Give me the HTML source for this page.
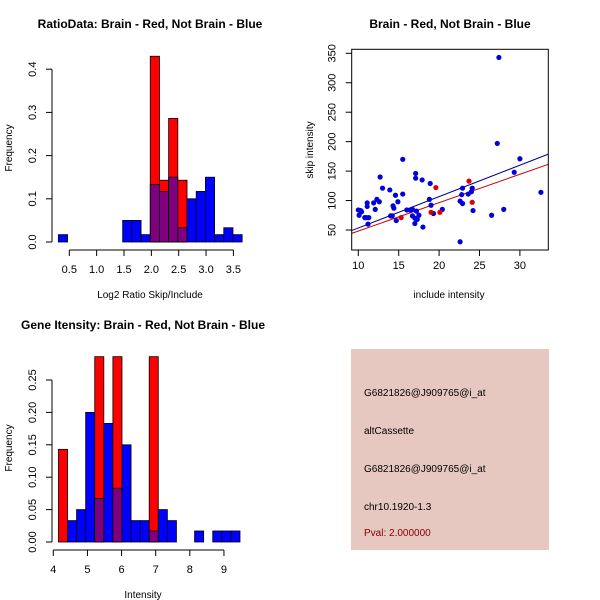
<!DOCTYPE html>
<html><head><meta charset="utf-8">
<style>
body{margin:0;background:#fff;}
svg{display:block;font-family:"Liberation Sans",sans-serif;}
</style></head>
<body>
<svg id="c" width="600" height="600">
<rect x="0" y="0" width="600" height="600" fill="#fff"/>
<text x="150" y="28" text-anchor="middle" font-size="12" font-weight="bold">RatioData: Brain - Red, Not Brain - Blue</text>
<text x="450" y="28" text-anchor="middle" font-size="12" font-weight="bold">Brain - Red, Not Brain - Blue</text>
<text x="143" y="329" text-anchor="middle" font-size="12" font-weight="bold">Gene Itensity: Brain - Red, Not Brain - Blue</text>
<g>
<rect x="351" y="349" width="198" height="201" fill="#E6C8C0"/>
<text x="364" y="396" font-size="10" fill="#000">G6821826@J909765@i_at</text>
<text x="364" y="434" font-size="10" fill="#000">altCassette</text>
<text x="364" y="472" font-size="10" fill="#000">G6821826@J909765@i_at</text>
<text x="364" y="510" font-size="10" fill="#000">chr10.1920-1.3</text>
<text x="364" y="536" font-size="10" fill="#8B0000">Pval: 2.000000</text>
</g>
</svg>
<script>
// Ratio histogram data
const ratioBlue=[0.017,0,0,0,0,0,0,0.05,0.05,0.017,0.133,0.117,0.15,0.033,0.1,0.117,0.15,0.017,0.033,0.017];
const ratioRed=[0,0,0,0,0,0,0,0,0,0,0.43,0.143,0.286,0.143,0,0,0,0,0,0];
const ratioBinStart=0.30, ratioBinWidth=0.168;
const ratioXTicks=[0.5,1.0,1.5,2.0,2.5,3.0,3.5];
const ratioYTicks=[0.0,0.1,0.2,0.3,0.4];
// Intensity histogram data
const intBlue=[0,0.033,0.05,0.2,0.067,0.183,0.083,0.15,0.033,0.033,0.017,0.05,0.033,0,0,0.017,0,0.017,0.017,0.017];
const intRed=[0.143,0,0,0,0.286,0,0.286,0,0,0,0.286,0,0,0,0,0,0,0,0,0];
const intBinStart=4.15, intBinWidth=0.266;
const intXTicks=[4,5,6,7,8,9];
const intYTicks=[0.00,0.05,0.10,0.15,0.20,0.25];
// Scatter data
const blueX=[10,10.1,10.3,10.4,10.8,11,11.3,11.1,11.1,11.2,11.9,12.1,12.3,12.6,12.7,13,13.9,14,14.3,14.4,14.2,14.6,14.7,14.9,15.5,15.5,16,16.4,16.7,16.7,17,17,17.1,17.1,17.2,17.3,17.5,17.9,18,18.9,18.8,19,19.3,20.4,22.6,22.6,22.9,22.8,22.9,23.6,24,24.1,24.2,26.5,27.2,27.4,28,29.3,30,32.6];
const blueY=[84,75,83,81,71,71,71,96,90,60,96,85,102,98,140,121,118,74,91,87,74,109,66,98,170,111,84,84,85,74,70,61,146,138,82,68,75,135,55,129,102,92,78,85,30,99,121,110,95,111,115,121,83,75,197,343,85,148,171,114];
const redX=[15.3,19,19.6,20.1,23.7,24.1];
const redY=[71,80,122,80,133,97];
const lineBlue=[0.1,5.33]; // intercept, slope
const lineRed=[0.0,4.82];
const scXTicks=[10,15,20,25,30];
const scYTicks=[50,100,150,200,250,300,350];

const svg=document.getElementById('c');
const NS='http://www.w3.org/2000/svg';
function el(tag,attrs,parent){const e=document.createElementNS(NS,tag);for(const k in attrs)e.setAttribute(k,attrs[k]);(parent||svg).appendChild(e);return e;}
function txt(x,y,s,size,rot,anchor,parent){const t=el('text',{x:x,y:y,'font-size':size,'text-anchor':anchor||'middle'},parent);if(rot)t.setAttribute('transform','rotate(-90 '+x+' '+y+')');t.textContent=s;return t;}

function hist(cfg){
  const g=el('g',{});
  
  
  const X=v=>cfg.x0+(v-cfg.xv0)*cfg.xs;
  const Y=v=>cfg.y0-v*cfg.ys;
  for(let i=0;i<cfg.blue.length;i++){
    const a=X(cfg.start+i*cfg.w), b=X(cfg.start+(i+1)*cfg.w);
    const bv=cfg.blue[i], rv=cfg.red[i], m=Math.min(bv,rv), M=Math.max(bv,rv);
    if(M<=0)continue;
    const col=rv>bv?'#FF0000':'#0000FF';
    const r=el('rect',{x:a,y:Y(M),width:b-a,height:Y(0)-Y(M),fill:col,stroke:'#000','stroke-width':0.8},g);
    
    
    if(m>0){
      const p=el('rect',{x:a,y:Y(m),width:b-a,height:Y(0)-Y(m),fill:'#7F007F',stroke:'#000','stroke-width':0.8},g);
      
      
    }
  }
  const ya=el('g',{});
  
  
  const yt=cfg.yt;
  el('line',{x1:cfg.ax,y1:Y(yt[0]),x2:cfg.ax,y2:Y(yt[yt.length-1]),stroke:'#000'},ya);
  yt.forEach(v=>{el('line',{x1:cfg.ax,y1:Y(v),x2:cfg.ax-6,y2:Y(v),stroke:'#000'},ya);txt(cfg.ax-16,Y(v),v.toFixed(cfg.yd),11,true,'middle',ya);});
  const xa=el('g',{});
  
  
  const xt=cfg.xt, ly=cfg.y0+8;
  el('line',{x1:X(xt[0]),y1:ly,x2:X(xt[xt.length-1]),y2:ly,stroke:'#000'},xa);
  xt.forEach(v=>{el('line',{x1:X(v),y1:ly,x2:X(v),y2:ly+6,stroke:'#000'},xa);txt(X(v),ly+23,v.toFixed(cfg.xd),11,false,'middle',xa);});
  const xl=txt(cfg.xlx,cfg.y0+56,cfg.xlab,10);
  
  
  const yl=txt(12,cfg.ylc,'Frequency',10,true);
  
  
}
hist({name:'ratio-histogram',blue:ratioBlue,red:ratioRed,start:ratioBinStart,w:ratioBinWidth,x0:69.3,xv0:0.5,xs:54.7,y0:242,ys:432,ax:52,yt:ratioYTicks,yd:1,xt:ratioXTicks,xd:1,xlab:'Log2 Ratio Skip/Include',xlx:150,ylc:148});
hist({name:'intensity-histogram',blue:intBlue,red:intRed,start:intBinStart,w:intBinWidth,x0:53.3,xv0:4,xs:34.13,y0:542,ys:648,ax:52,yt:intYTicks,yd:2,xt:intXTicks,xd:0,xlab:'Intensity',xlx:143,ylc:448});

(function(){
  const g=el('g',{});
  
  
  const X=v=>358.3+(v-10)*8.08;
  const Y=v=>230-(v-50)*0.589;
  const L=351.7,R=548.3,T=49.3,B=250;
  el('defs',{},g).innerHTML='<clipPath id="sc"><rect x="'+L+'" y="'+T+'" width="'+(R-L)+'" height="'+(B-T)+'"/></clipPath>';
  [[lineBlue,'#00008B'],[lineRed,'#CC0000']].forEach(([ln,c],k)=>{
    const x1=9,x2=34;
    const l=el('line',{x1:X(x1),y1:Y(ln[0]+ln[1]*x1),x2:X(x2),y2:Y(ln[0]+ln[1]*x2),stroke:c,'stroke-width':1,'clip-path':'url(#sc)'},g);
    
    
  });
  blueX.forEach((x,i)=>{const c=el('circle',{cx:X(x),cy:Y(blueY[i]),r:2.6,fill:'#0000DD'},g);
    
    });
  redX.forEach((x,i)=>{const c=el('circle',{cx:X(x),cy:Y(redY[i]),r:2.6,fill:'#DD0000'},g);
    
    });
  el('rect',{x:L,y:T,width:R-L,height:B-T,fill:'none',stroke:'#000'},g);
  scXTicks.forEach(v=>{el('line',{x1:X(v),y1:B,x2:X(v),y2:B+6,stroke:'#000'},g);txt(X(v),B+19,String(v),11,false,'middle',g);});
  scYTicks.forEach(v=>{el('line',{x1:L,y1:Y(v),x2:L-6,y2:Y(v),stroke:'#000'},g);txt(L-16,Y(v),String(v),11,true,'middle',g);});
  const xl=txt(449,298,'include intensity',10);
  
  
  const yl=txt(313,150,'skip intensity',10,true);
  
  
})();
</script>
</body></html>
